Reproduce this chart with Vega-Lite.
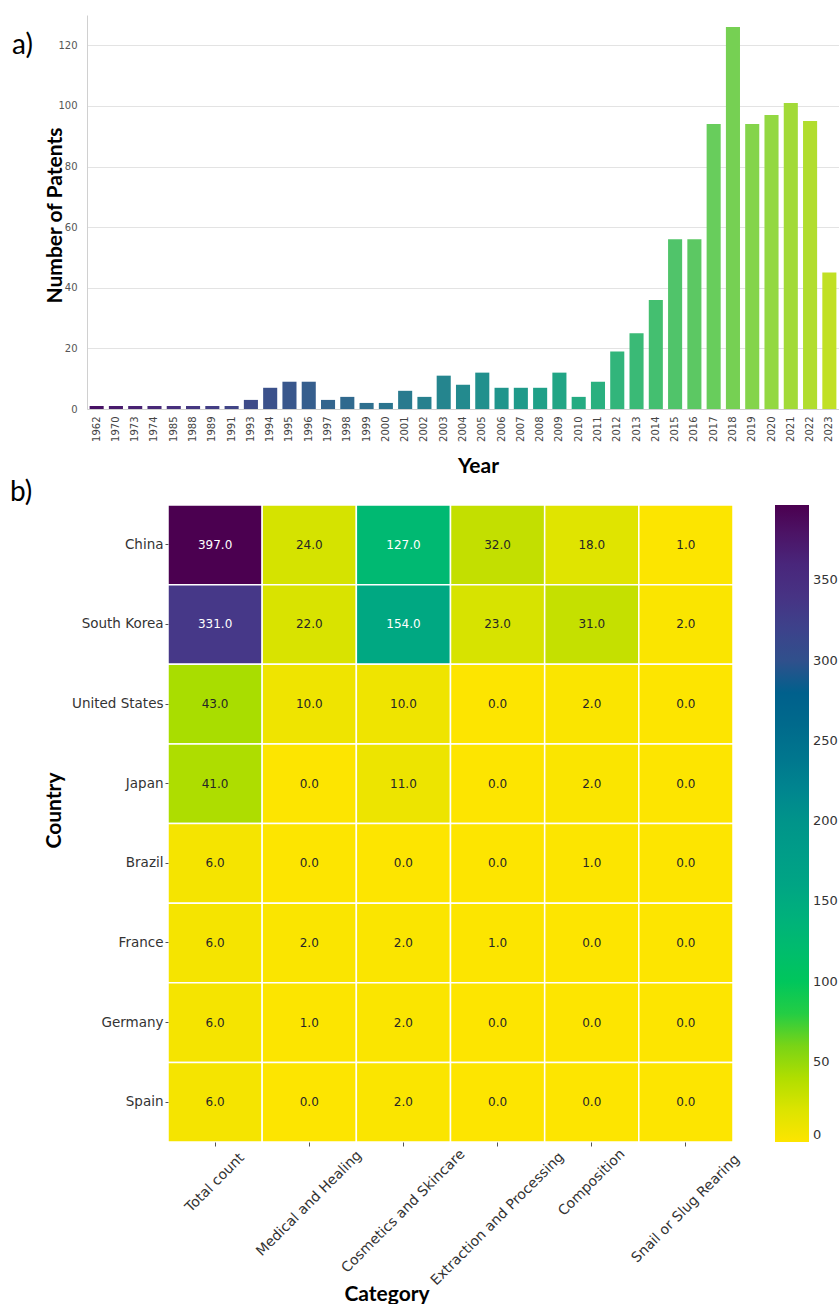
{
  "$schema": "https://vega.github.io/schema/vega-lite/v6.json",
  "padding": {"left": 10, "top": 15, "right": 0, "bottom": 0},
  "background": "white",
  "spacing": 3,
  "config": {"view": {"stroke": null}, "font": "DejaVu Sans"},
  "vconcat": [
    {
      "title": {"text": "a)", "anchor": "start", "frame": "group", "font": "Lato", "fontSize": 28, "fontWeight": "normal", "color": "black", "baseline": "alphabetic", "offset": 5, "dx": -75, "dy": 72},
      "width": 752,
      "height": 394,
      "data": {"values": [
        {"Year": "1962", "Patents": 1}, {"Year": "1970", "Patents": 1}, {"Year": "1973", "Patents": 1}, {"Year": "1974", "Patents": 1},
        {"Year": "1985", "Patents": 1}, {"Year": "1988", "Patents": 1}, {"Year": "1989", "Patents": 1}, {"Year": "1991", "Patents": 1},
        {"Year": "1993", "Patents": 3}, {"Year": "1994", "Patents": 7}, {"Year": "1995", "Patents": 9}, {"Year": "1996", "Patents": 9},
        {"Year": "1997", "Patents": 3}, {"Year": "1998", "Patents": 4}, {"Year": "1999", "Patents": 2}, {"Year": "2000", "Patents": 2},
        {"Year": "2001", "Patents": 6}, {"Year": "2002", "Patents": 4}, {"Year": "2003", "Patents": 11}, {"Year": "2004", "Patents": 8},
        {"Year": "2005", "Patents": 12}, {"Year": "2006", "Patents": 7}, {"Year": "2007", "Patents": 7}, {"Year": "2008", "Patents": 7},
        {"Year": "2009", "Patents": 12}, {"Year": "2010", "Patents": 4}, {"Year": "2011", "Patents": 9}, {"Year": "2012", "Patents": 19},
        {"Year": "2013", "Patents": 25}, {"Year": "2014", "Patents": 36}, {"Year": "2015", "Patents": 56}, {"Year": "2016", "Patents": 56},
        {"Year": "2017", "Patents": 94}, {"Year": "2018", "Patents": 126}, {"Year": "2019", "Patents": 94}, {"Year": "2020", "Patents": 97},
        {"Year": "2021", "Patents": 101}, {"Year": "2022", "Patents": 95}, {"Year": "2023", "Patents": 45}
      ]},
      "mark": {"type": "bar"},
      "encoding": {
        "x": {
          "field": "Year", "type": "ordinal",
          "scale": {"paddingInner": 0.27, "paddingOuter": 0.135},
          "axis": {
            "title": "Year", "labelAngle": -90, "labelFont": "DejaVu Sans", "labelFontSize": 10, "labelColor": "#444",
            "ticks": false, "labelPadding": 7, "domain": true, "domainColor": "#d0d0d0",
            "titleFont": "Lato", "titleFontSize": 21, "titleFontWeight": "bold", "titleColor": "black",
            "titleX": 391, "titleY": 63, "titleBaseline": "alphabetic", "titleAlign": "center"
          }
        },
        "y": {
          "field": "Patents", "type": "quantitative",
          "scale": {"domain": [0, 130], "nice": false},
          "axis": {
            "title": "Number of Patents", "values": [0, 20, 40, 60, 80, 100, 120],
            "grid": true, "gridColor": "#e3e3e3", "domain": true, "domainColor": "#d0d0d0", "ticks": false,
            "labelPadding": 10, "labelFont": "DejaVu Sans", "labelFontSize": 10, "labelColor": "#555",
            "titleFont": "Lato", "titleFontSize": 21, "titleFontWeight": "bold", "titleColor": "black",
            "titleX": -26, "titleY": 200, "titleBaseline": "alphabetic", "titleAlign": "center", "titleAngle": -90
          }
        },
        "color": {"field": "Year", "type": "ordinal", "scale": {"scheme": {"name": "viridis", "extent": [0.02, 0.93]}}, "legend": null}
      }
    },
    {
      "title": {"text": "b)", "anchor": "start", "frame": "group", "font": "Lato", "fontSize": 28, "fontWeight": "normal", "color": "black", "baseline": "alphabetic", "offset": 5, "dx": -77, "dy": 30},
      "width": 646,
      "height": 637,
      "data": {"values": [
        {"Country": "China", "Category": "Total count", "value": 397},
        {"Country": "China", "Category": "Medical and Healing", "value": 24},
        {"Country": "China", "Category": "Cosmetics and Skincare", "value": 127},
        {"Country": "China", "Category": "Extraction and Processing", "value": 32},
        {"Country": "China", "Category": "Composition", "value": 18},
        {"Country": "China", "Category": "Snail or Slug Rearing", "value": 1},
        {"Country": "South Korea", "Category": "Total count", "value": 331},
        {"Country": "South Korea", "Category": "Medical and Healing", "value": 22},
        {"Country": "South Korea", "Category": "Cosmetics and Skincare", "value": 154},
        {"Country": "South Korea", "Category": "Extraction and Processing", "value": 23},
        {"Country": "South Korea", "Category": "Composition", "value": 31},
        {"Country": "South Korea", "Category": "Snail or Slug Rearing", "value": 2},
        {"Country": "United States", "Category": "Total count", "value": 43},
        {"Country": "United States", "Category": "Medical and Healing", "value": 10},
        {"Country": "United States", "Category": "Cosmetics and Skincare", "value": 10},
        {"Country": "United States", "Category": "Extraction and Processing", "value": 0},
        {"Country": "United States", "Category": "Composition", "value": 2},
        {"Country": "United States", "Category": "Snail or Slug Rearing", "value": 0},
        {"Country": "Japan", "Category": "Total count", "value": 41},
        {"Country": "Japan", "Category": "Medical and Healing", "value": 0},
        {"Country": "Japan", "Category": "Cosmetics and Skincare", "value": 11},
        {"Country": "Japan", "Category": "Extraction and Processing", "value": 0},
        {"Country": "Japan", "Category": "Composition", "value": 2},
        {"Country": "Japan", "Category": "Snail or Slug Rearing", "value": 0},
        {"Country": "Brazil", "Category": "Total count", "value": 6},
        {"Country": "Brazil", "Category": "Medical and Healing", "value": 0},
        {"Country": "Brazil", "Category": "Cosmetics and Skincare", "value": 0},
        {"Country": "Brazil", "Category": "Extraction and Processing", "value": 0},
        {"Country": "Brazil", "Category": "Composition", "value": 1},
        {"Country": "Brazil", "Category": "Snail or Slug Rearing", "value": 0},
        {"Country": "France", "Category": "Total count", "value": 6},
        {"Country": "France", "Category": "Medical and Healing", "value": 2},
        {"Country": "France", "Category": "Cosmetics and Skincare", "value": 2},
        {"Country": "France", "Category": "Extraction and Processing", "value": 1},
        {"Country": "France", "Category": "Composition", "value": 0},
        {"Country": "France", "Category": "Snail or Slug Rearing", "value": 0},
        {"Country": "Germany", "Category": "Total count", "value": 6},
        {"Country": "Germany", "Category": "Medical and Healing", "value": 1},
        {"Country": "Germany", "Category": "Cosmetics and Skincare", "value": 2},
        {"Country": "Germany", "Category": "Extraction and Processing", "value": 0},
        {"Country": "Germany", "Category": "Composition", "value": 0},
        {"Country": "Germany", "Category": "Snail or Slug Rearing", "value": 0},
        {"Country": "Spain", "Category": "Total count", "value": 6},
        {"Country": "Spain", "Category": "Medical and Healing", "value": 0},
        {"Country": "Spain", "Category": "Cosmetics and Skincare", "value": 2},
        {"Country": "Spain", "Category": "Extraction and Processing", "value": 0},
        {"Country": "Spain", "Category": "Composition", "value": 0},
        {"Country": "Spain", "Category": "Snail or Slug Rearing", "value": 0}
      ]},
      "encoding": {
        "x": {
          "field": "Category", "type": "nominal",
          "sort": ["Total count", "Medical and Healing", "Cosmetics and Skincare", "Extraction and Processing", "Composition", "Snail or Slug Rearing"],
          "scale": {"range": [81, 646], "paddingInner": 0, "paddingOuter": 0},
          "axis": {
            "title": "Category", "labelAngle": -45, "labelBaseline": "middle", "labelAlign": "center",
            "labelPadding": {"expr": "0.354 * (7.3 * length(datum.label) + 14) + 3"},
            "labelFont": "DejaVu Sans", "labelFontSize": 14, "labelColor": "#333", "labelLimit": 300,
            "ticks": true, "tickSize": 4, "tickColor": "#555", "domain": false,
            "titleFont": "Lato", "titleFontSize": 21, "titleFontWeight": "bold", "titleColor": "black",
            "titleX": 299.5, "titleY": 158, "titleBaseline": "alphabetic", "titleAlign": "center"
          }
        },
        "y": {
          "field": "Country", "type": "nominal",
          "sort": ["China", "South Korea", "United States", "Japan", "Brazil", "France", "Germany", "Spain"],
          "scale": {"paddingInner": 0, "paddingOuter": 0},
          "axis": {
            "offset": -81, "title": "Country", "labelFont": "DejaVu Sans", "labelFontSize": 13.5, "labelColor": "#333",
            "ticks": true, "tickSize": 3, "tickColor": "#555", "labelPadding": 2, "domain": false,
            "titleFont": "Lato", "titleFontSize": 21, "titleFontWeight": "bold", "titleColor": "black",
            "titleX": -108, "titleY": 305, "titleBaseline": "alphabetic", "titleAlign": "center", "titleAngle": -90
          }
        }
      },
      "layer": [
        {
          "mark": {"type": "rect", "stroke": "white", "strokeWidth": 1.5},
          "encoding": {
            "color": {
              "field": "value", "type": "quantitative",
              "scale": {
                "domain": [0, 10, 18, 24, 32, 43, 55, 70, 85, 127, 154, 200, 250, 297, 300, 331, 365, 397],
                "range": ["#fde500", "#efe400", "#e0e400", "#d5e300", "#c3df00", "#a9dd00", "#8ed600", "#44cf30", "#00cc4c", "#00b972", "#00a882", "#00948a", "#006e8c", "#00588a", "#30508c", "#463888", "#4a2278", "#4b0050"]
              },
              "legend": {
                "orient": "right", "offset": 42, "direction": "vertical", "title": null,
                "gradientLength": 637, "gradientThickness": 34, "gradientStrokeWidth": 0,
                "values": [0, 50, 100, 150, 200, 250, 300, 350],
                "labelFont": "DejaVu Sans", "labelFontSize": 13, "labelColor": "#333", "labelOffset": 4
              }
            }
          }
        },
        {
          "mark": {"type": "text", "font": "DejaVu Sans", "fontSize": 12},
          "encoding": {
            "text": {"field": "value", "type": "quantitative", "format": ".1f"},
            "color": {"condition": {"test": "datum.value > 100", "value": "white"}, "value": "#262626"}
          }
        }
      ]
    }
  ]
}
